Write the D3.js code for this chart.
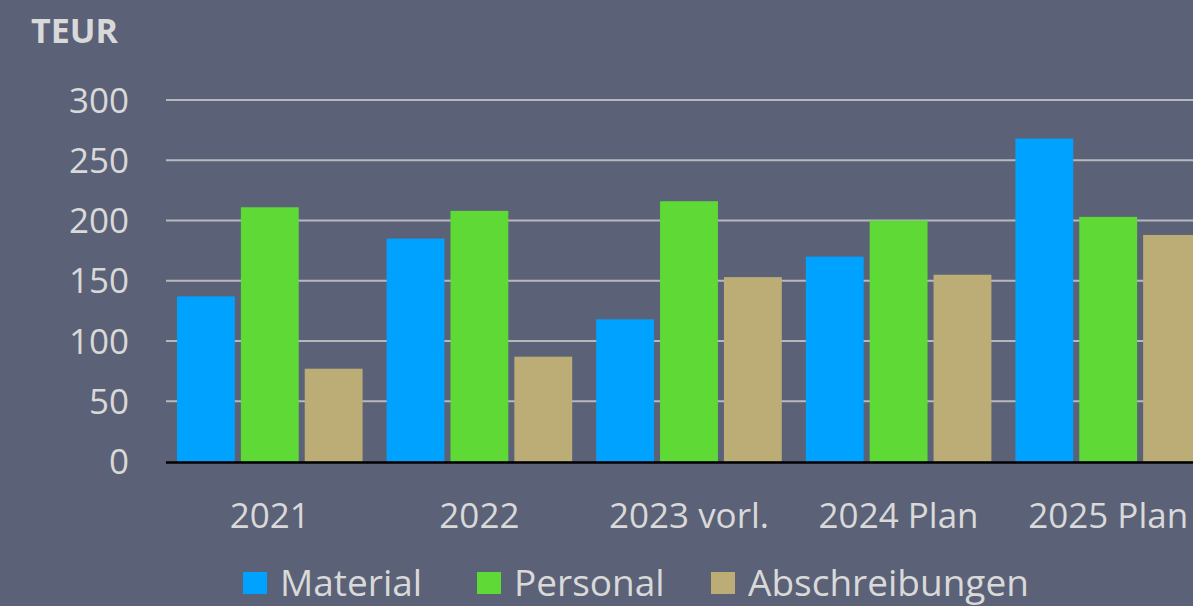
<!DOCTYPE html>
<html>
<head>
<meta charset="utf-8">
<script src="https://cdn.jsdelivr.net/npm/d3@7"></script>
<style>
  body { margin: 0; background: #5b6177; }
  svg { display: block; font-family: "Open Sans", sans-serif; }
</style>
</head>
<body>
<div id="chart-container"></div>
<script>
const categories = ["2021", "2022", "2023 vorl.", "2024 Plan", "2025 Plan"];
const seriesNames = ["Material", "Personal", "Abschreibungen"];
const material = [137, 185, 118, 170, 268];
const personal = [211, 208, 216, 200, 203];
const abschreibungen = [77, 87, 153, 155, 188];
const yTicks = [0, 50, 100, 150, 200, 250, 300];
const colors = ["#00a2ff", "#5fd936", "#bbad75"];

const width = 1193, height = 606;
const values = [material, personal, abschreibungen];

const svg = d3.select("#chart-container")
    .append("svg")
    .attr("width", width)
    .attr("height", height);

svg.append("rect")
    .attr("width", width)
    .attr("height", height)
    .attr("fill", "#5b6177");

const x0 = d3.scaleBand()
    .domain(categories)
    .range([165, 1213]);

const x1 = d3.scaleBand()
    .domain(seriesNames)
    .range([12, x0.bandwidth() - 12])
    .paddingInner(0.094);

const y = d3.scaleLinear()
    .domain([0, 300])
    .range([461.5, 100]);

// gridlines
svg.append("g")
    .selectAll("line")
    .data(yTicks.filter(d => d > 0))
    .enter()
    .append("line")
    .attr("x1", 166)
    .attr("x2", width)
    .attr("y1", d => y(d))
    .attr("y2", d => y(d))
    .attr("stroke", "#b8b8bc")
    .attr("stroke-width", 2);

// y tick labels
svg.append("g")
    .selectAll("text")
    .data(yTicks)
    .enter()
    .append("text")
    .attr("x", 129)
    .attr("y", d => y(d))
    .attr("dy", "0.36em")
    .attr("text-anchor", "end")
    .style("font-size", "35px")
    .style("fill", "#d9d9d9")
    .text(d => d);

svg.append("text")
    .attr("x", 31)
    .attr("y", 43)
    .style("font-size", "34px")
    .style("font-weight", "bold")
    .style("fill", "#d9d9d9")
    .text("TEUR");

// bars
const rows = categories.map((c, i) => ({cat: c, vals: seriesNames.map((s, j) => ({s: s, j: j, v: values[j][i]}))}));

svg.append("g")
    .selectAll("g")
    .data(rows)
    .enter()
    .append("g")
    .attr("transform", d => `translate(${x0(d.cat)},0)`)
    .selectAll("rect")
    .data(d => d.vals)
    .enter()
    .append("rect")
    .attr("x", d => x1(d.s))
    .attr("y", d => y(d.v))
    .attr("width", x1.bandwidth())
    .attr("height", d => y(0) - y(d.v))
    .attr("fill", d => colors[d.j]);

// x axis line
svg.append("line")
    .attr("x1", 166)
    .attr("x2", width)
    .attr("y1", 462.5)
    .attr("y2", 462.5)
    .attr("stroke", "#000")
    .attr("stroke-width", 2.5);

// x labels
svg.append("g")
    .selectAll("text")
    .data(categories)
    .enter()
    .append("text")
    .attr("x", d => x0(d) + x0.bandwidth() / 2)
    .attr("y", 528)
    .attr("text-anchor", "middle")
    .style("font-size", "35px")
    .style("fill", "#d9d9d9")
    .text(d => d);

// legend
const legendX = [243, 477, 711];
const legend = svg.append("g")
    .selectAll("g")
    .data(seriesNames)
    .enter()
    .append("g")
    .attr("transform", (d, i) => `translate(${legendX[i]},0)`);

legend.append("rect")
    .attr("x", 0)
    .attr("y", 572)
    .attr("width", 24)
    .attr("height", 22)
    .attr("fill", (d, i) => colors[i]);

legend.append("text")
    .attr("x", 37)
    .attr("y", 596)
    .style("font-size", "37px")
    .style("fill", "#d9d9d9")
    .text(d => d);
</script>
</body>
</html>
